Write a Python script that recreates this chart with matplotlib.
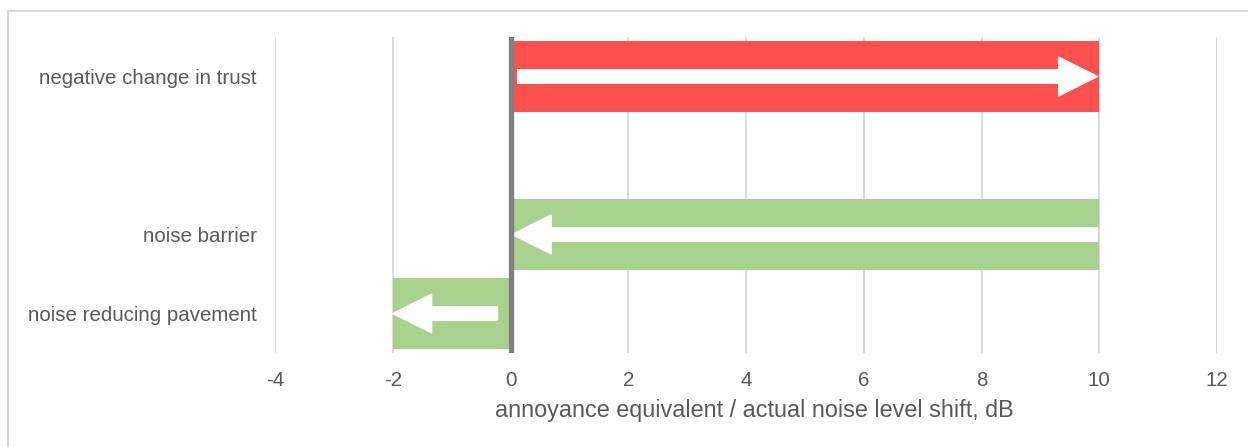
import matplotlib
matplotlib.use("Agg")
import matplotlib.pyplot as plt
from matplotlib.patches import FancyArrowPatch, Rectangle

# ---- data ----
categories = ["noise reducing pavement", "noise barrier", "", "negative change in trust"]
bar_values = [-2, 10, 0, 10]
bar_colors = ["#A9D18E", "#A9D18E", "none", "#FF5050"]
arrow_starts = [-0.22, 9.97, None, 0.12]
arrow_ends = [-2.0, 0.03, None, 9.97]
xticks = [-4, -2, 0, 2, 4, 6, 8, 10, 12]
xlabel = "annoyance equivalent / actual noise level shift, dB"

plt.rcParams['font.family'] = ['Liberation Sans', 'DejaVu Sans']
text_color = "#595959"

fig = plt.figure(figsize=(12.48, 4.47), dpi=100)
ax = fig.add_axes([275/1248, 1-353/447, (1217-275)/1248, (353-37)/447])

# figure border (only top/left visible in reference)
fig.patches.append(Rectangle((8/1248, -0.1), 1.2, 1-11/447+0.1, transform=fig.transFigure,
                             fill=False, edgecolor="#D9D9D9", lw=1.5, zorder=0))

ypos = list(range(len(categories)))
for y, v, c in zip(ypos, bar_values, bar_colors):
    if c != "none":
        ax.barh(y, v, height=0.91, color=c, zorder=2)

for y, s, e in zip(ypos, arrow_starts, arrow_ends):
    if s is None:
        continue
    arr = FancyArrowPatch((s, y), (e, y), arrowstyle="simple,head_length=28,head_width=28,tail_width=9.8",
                          mutation_scale=1, color="white", shrinkA=0, shrinkB=0, zorder=3)
    ax.add_patch(arr)

ax.axvline(0, color="#7F7F7F", lw=3.8, zorder=4)

ax.set_xlim(-4, 12)
ax.set_ylim(-0.5, 3.5)
ax.set_xticks(xticks)
ax.set_xticklabels([str(t) for t in xticks])
ax.set_yticks(ypos)
ax.set_yticklabels(categories)
ax.grid(axis="x", color="#D9D9D9", lw=1.3, zorder=0)
ax.set_axisbelow(True)
for sp in ax.spines.values():
    sp.set_visible(False)
ax.tick_params(axis="both", length=0, labelsize=14.8, colors=text_color)
ax.tick_params(axis="y", pad=13)
ax.tick_params(axis="x", pad=13)
ax.set_xlabel(xlabel, fontsize=16.8, color=text_color)
ax.xaxis.set_label_coords((754-275)/942, -(410-353)/316, transform=ax.transAxes)
ax.xaxis.label.set_va("center")

fig.savefig("out.png", dpi=100)
